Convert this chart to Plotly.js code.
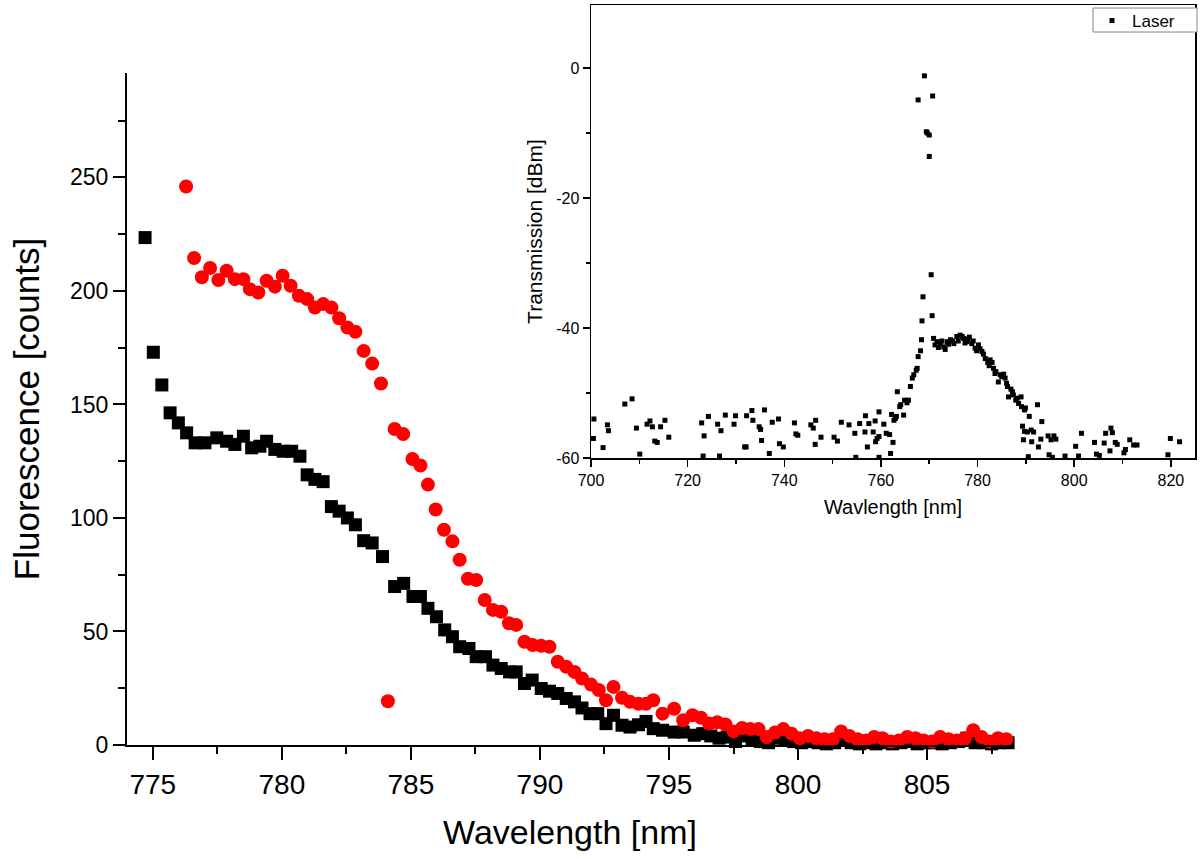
<!DOCTYPE html>
<html>
<head>
<meta charset="utf-8">
<script src="https://cdn.plot.ly/plotly-3.0.1.min.js"></script>
<style>html,body{margin:0;padding:0;background:#fff;}#chart{width:1200px;height:859px;}</style>
</head>
<body>
<div id="chart"></div>
<script>
// ---- Main chart: black squares ----
const blackWavelength = [774.70,775.02,775.35,775.67,775.99,776.31,776.64,777.02,777.48,777.86,778.18,778.51,778.83,779.15,779.41,779.73,780.05,780.38,780.70,780.98,781.28,781.60,781.92,782.22,782.54,782.85,783.17,783.50,783.90,784.37,784.72,785.08,785.37,785.66,785.99,786.31,786.61,786.89,787.25,787.53,787.89,788.18,788.50,788.82,789.08,789.40,789.70,790.05,790.37,790.69,791.02,791.34,791.63,791.94,792.24,792.56,792.85,793.18,793.49,793.82,794.11,794.39,794.75,795.20,795.55,795.98,796.31,796.62,796.94,797.26,797.58,797.90,798.22,798.54,798.86,799.18,799.50,799.82,800.14,800.46,800.78,801.10,801.42,801.74,802.06,802.38,802.70,803.02,803.34,803.66,803.98,804.30,804.62,804.94,805.26,805.58,805.90,806.22,806.54,806.86,807.18,807.50,807.82,808.14];
const blackCounts = [223.5,173,158.6,146.3,141.9,137.5,133.1,133.1,135.3,133.8,132.4,136.0,130.9,131.6,133.8,130.2,129.4,129.4,127.2,119,117,116,105,103,100,97,90,89,83,69.8,71.2,65.4,65.4,60.2,56.5,50.7,47.7,43.3,42.5,38.9,38.9,35.2,33.7,32.2,32.2,27.1,28.6,24.9,23.7,22.7,20.5,19.0,16.3,13.8,13.8,9.4,13.1,8.7,7.9,8.9,10.4,7.2,6.5,5.7,5.7,4.3,5,4,3,3.5,1.5,4,2.5,1.5,1,3,2,1.5,1,1.5,1,0.5,1,2,1,0.5,1,0.5,1,0.5,1,1.5,0.5,1,1,0.5,1,1.5,3,1,1,0.5,1,1];

// ---- Main chart: red circles ----
const redWavelength = [776.29,776.60,776.90,777.22,777.54,777.86,778.18,778.51,778.76,779.09,779.41,779.73,780.03,780.34,780.66,780.98,781.28,781.60,781.92,782.22,782.54,782.85,783.17,783.50,783.84,784.11,784.37,784.70,785.06,785.37,785.66,785.96,786.28,786.61,786.89,787.21,787.53,787.86,788.18,788.50,788.80,789.08,789.40,789.72,790.05,790.37,790.69,791.02,791.34,791.63,791.98,792.28,792.56,792.85,793.18,793.49,793.82,794.11,794.39,794.75,795.20,795.55,795.91,796.24,796.55,796.87,797.19,797.51,797.83,798.15,798.47,798.79,799.11,799.43,799.75,800.07,800.39,800.71,801.03,801.35,801.67,801.99,802.31,802.63,802.95,803.27,803.59,803.91,804.23,804.55,804.87,805.19,805.51,805.83,806.15,806.47,806.79,807.11,807.43,807.75,808.07];
const redCounts = [246,214.5,206,210.1,204.8,208.9,205.2,205.2,200.8,199.3,204.5,201.9,206.7,202.3,197.9,196.4,192.7,194.2,192.7,188.0,183.9,182.0,173.6,168.0,159.2,19.3,139.2,137.0,126.0,123.1,114.7,103.7,94.8,89.7,81.6,73.2,72.7,63.9,59.5,58.7,53.6,52.9,45.5,44.0,43.7,43.3,36.7,34.5,32.2,29.3,26.6,24.2,19.7,25.6,20.8,19.0,18.2,18.2,19.7,13.8,16.0,10.9,13.1,12,9.5,10,9,6,7.5,7,7,3.5,5.5,7,5,3,4,3,2.5,2.5,6,4,2.5,2,3.5,3,1.5,2,3.5,3,2,1.5,3.5,2.5,2,3,6.5,3.5,1.5,3,2.5];

// ---- Inset: Laser transmission ----
const laserWavelength = [700.5,700.6,702.5,703.4,703.6,707.0,708.5,709.4,710.1,711.6,712.2,712.7,713.2,713.7,714.4,715.3,716.1,722.9,723.2,723.4,724.3,726.2,726.6,726.9,727.8,729.6,729.9,731.8,732.1,732.2,733.3,733.5,734.8,735.1,735.3,735.9,736.9,737.5,738.8,739.0,739.8,742.1,742.4,742.8,745.5,746.0,746.4,746.5,747.6,750.3,751.0,751.8,753.4,754.6,754.8,755.6,756.7,756.8,757.2,757.5,758.4,758.8,758.9,759.2,759.6,759.6,759.6,760.6,761.1,761.8,762.0,762.2,762.5,762.7,763.0,763.2,763.4,763.9,764.1,764.7,764.9,765.4,765.7,766.1,766.5,766.8,767.3,767.5,767.7,767.7,768.2,768.4,768.5,768.7,769.0,769.4,769.6,770.0,770.0,770.4,770.6,770.7,770.9,771.2,771.6,771.9,772.3,772.6,773.0,773.3,773.7,774.0,774.4,774.8,775.1,775.7,776.0,776.4,776.8,777.1,777.4,777.8,778.0,778.3,778.8,779.1,779.5,779.8,780.2,780.5,780.9,781.2,781.6,782.1,782.4,782.6,783.0,783.3,783.6,783.8,784.3,784.7,785.0,785.4,785.7,786.0,786.2,786.4,786.9,787.2,787.4,787.9,788.2,788.5,789.0,789.1,789.3,789.5,789.7,789.7,789.9,790.3,790.5,790.7,791.1,791.2,791.6,792.4,792.6,793.1,793.3,794.6,794.8,795.2,795.5,795.8,796.2,798.1,800.3,800.9,801.5,804.2,804.6,805.2,806.2,806.5,807.4,807.6,807.9,808.5,808.9,810.3,810.6,811.5,812.3,813.0,819.4,819.9,821.8];
const laserDbm = [-57.0,-54.0,-58.4,-54.9,-55.8,-51.7,-50.9,-55.4,-59.4,-54.8,-54.3,-55.2,-57.4,-57.6,-55.2,-54.2,-56.8,-54.6,-59.7,-56.6,-53.6,-54.8,-59.7,-55.8,-53.4,-54.8,-53.5,-58.3,-58.3,-53.5,-52.7,-54.2,-55.2,-55.6,-57.3,-52.6,-59.3,-54.5,-54.0,-57.8,-58.3,-54.6,-56.3,-56.5,-54.9,-55.4,-57.9,-54.2,-56.8,-56.8,-57.4,-54.5,-54.9,-56.2,-59.9,-54.7,-56.0,-53.5,-58.3,-54.7,-56.0,-54.3,-57.5,-57.0,-52.9,-59.9,-56.7,-54.8,-56.2,-56.4,-59.3,-53.3,-57.6,-54.2,-53.9,-53.6,-49.8,-52.1,-51.8,-53.4,-51.1,-51.5,-51.1,-49.0,-47.7,-47.2,-46.5,-46.2,-44.4,-4.9,-43.5,-41.8,-38.9,-35.2,-1.2,-9.8,-10.0,-10.3,-13.6,-31.8,-38.1,-4.3,-41.6,-42.6,-42.1,-43.0,-42.4,-42.0,-42.9,-43.3,-42.1,-42.5,-41.8,-42.0,-42.4,-41.3,-42.0,-41.1,-41.3,-41.6,-42.3,-42.1,-41.7,-41.4,-42.4,-42.0,-43.1,-43.5,-42.6,-43.2,-43.6,-44.0,-44.7,-45.3,-45.8,-44.9,-45.3,-46.2,-47.0,-46.7,-48.3,-47.2,-47.5,-47.1,-47.7,-48.5,-49.0,-50.6,-49.4,-49.8,-50.3,-51.1,-50.8,-51.6,-50.6,-52.1,-55.1,-57.2,-52.6,-55.9,-52.3,-56.0,-59.8,-53.6,-55.7,-57.5,-56.0,-51.8,-58.3,-57.1,-54.4,-56.6,-59.5,-57.2,-59.9,-56.6,-57.1,-59.7,-58.2,-59.7,-56.2,-57.6,-59.4,-59.6,-57.7,-56.2,-58.9,-55.4,-56.1,-57.6,-57.9,-59.2,-58.7,-57.2,-58.0,-58.0,-59.5,-57.0,-57.5];

// tick labels
const mainYTicks = [0,50,100,150,200,250];
const mainXTicks = [775,780,785,790,795,800,805];
const insetYTickVals = [-60,-40,-20,0];
const insetYTickText = ['-60','-40','-20','0'];
const insetXTicks = [700,720,740,760,780,800,820];

const FONT = 'Liberation Sans, Arial, Helvetica, sans-serif';
const W = 1200, H = 859;

const traces = [
  {x: blackWavelength, y: blackCounts, type:'scatter', mode:'markers', xaxis:'x', yaxis:'y',
   marker:{symbol:'square', size:13, color:'#000000'}, showlegend:false, cliponaxis:false, name:'black'},
  {x: redWavelength, y: redCounts, type:'scatter', mode:'markers', xaxis:'x', yaxis:'y',
   marker:{symbol:'circle', size:14, color:'#ff0000'}, showlegend:false, cliponaxis:false, name:'red'},
  {x: laserWavelength, y: laserDbm, type:'scatter', mode:'markers', xaxis:'x2', yaxis:'y2',
   marker:{symbol:'square', size:5, color:'#000000'}, showlegend:true, cliponaxis:false, name:'Laser'}
];

const axisCommon = {showline:true, linecolor:'#000', showgrid:false, zeroline:false, ticks:'outside', tickcolor:'#000'};

const layout = {
  width: W, height: H,
  margin:{l:0, r:0, t:0, b:0},
  paper_bgcolor:'#fff', plot_bgcolor:'rgba(0,0,0,0)',
  font:{family:FONT, color:'#000'},
  showlegend:true,
  xaxis: Object.assign({}, axisCommon, {
    domain:[127/W, 1013/W], anchor:'y', range:[774.0, 808.33],
    linewidth:2, tickwidth:2, ticklen:13,
    tickmode:'array', tickvals: mainXTicks,
    minor:{dtick:2.5, tick0:775, ticks:'outside', ticklen:7, tickwidth:2, tickcolor:'#000', showgrid:false},
    tickfont:{size:28, family:FONT},
    title:{text:'Wavelength [nm]', font:{size:34, family:FONT}, standoff:22}
  }),
  yaxis: Object.assign({}, axisCommon, {
    domain:[1-745/H, 1-73/H], anchor:'x', range:[0, 296],
    linewidth:2, tickwidth:2, ticklen:12,
    tickmode:'array', tickvals: mainYTicks,
    minor:{dtick:25, tick0:0, ticks:'outside', ticklen:7, tickwidth:2, tickcolor:'#000', showgrid:false},
    tickfont:{size:23, family:FONT},
    title:{text:'Fluorescence [counts]', font:{size:35, family:FONT}, standoff:20}
  }),
  xaxis2: Object.assign({}, axisCommon, {
    domain:[591/W, 1195/W], anchor:'y2', range:[700, 825], mirror:true,
    linewidth:1.5, tickwidth:1.5, ticklen:7,
    tickmode:'array', tickvals: insetXTicks,
    minor:{dtick:10, tick0:700, ticks:'outside', ticklen:4, tickwidth:1.5, tickcolor:'#000', showgrid:false},
    tickfont:{size:16, family:FONT},
    title:{text:'Wavlength [nm]', font:{size:20, family:FONT}, standoff:12}
  }),
  yaxis2: Object.assign({}, axisCommon, {
    domain:[1-458/H, 1-5/H], anchor:'x2', range:[-60, 9.7], mirror:true,
    linewidth:1.5, tickwidth:1.5, ticklen:7,
    tickmode:'array', tickvals: insetYTickVals, ticktext: insetYTickText,
    minor:{dtick:10, tick0:0, ticks:'outside', ticklen:4, tickwidth:1.5, tickcolor:'#000', showgrid:false},
    tickfont:{size:16, family:FONT},
    title:{text:'Transmission [dBm]', font:{size:21, family:FONT}, standoff:8}
  }),
  shapes:[
    {type:'rect', xref:'paper', yref:'paper', x0:1093/W, x1:1197/W, y0:1-32/H, y1:1-8/H,
     line:{color:'#888', width:1}, fillcolor:'#fff', layer:'above'}
  ],
  legend:{x:1092/W, xanchor:'left', y:1-3/H, yanchor:'top', bgcolor:'rgba(0,0,0,0)',
          borderwidth:0, font:{size:17, family:FONT}, itemwidth:30}
};

Plotly.newPlot('chart', traces, layout, {displayModeBar:false, staticPlot:true});
</script>
</body>
</html>
